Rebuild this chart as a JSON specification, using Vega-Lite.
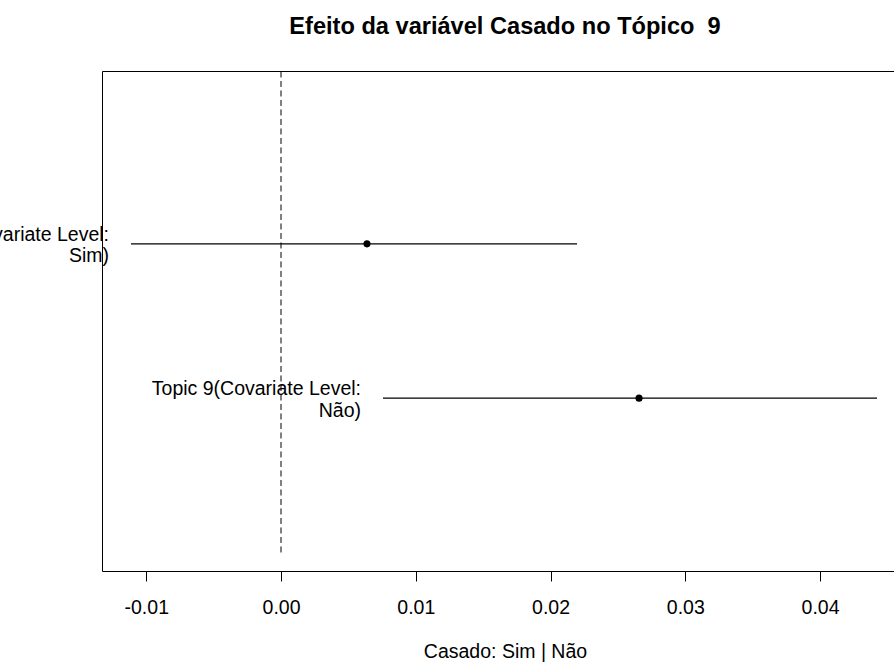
{
  "$schema": "https://vega.github.io/schema/vega-lite/v6.json",
  "width": 806,
  "height": 500,
  "autosize": {"type": "none"},
  "padding": {"left": 102, "top": 71, "right": 0, "bottom": 91},
  "background": "white",
  "config": {
    "font": "Liberation Sans",
    "view": {"stroke": "black", "strokeWidth": 1}
  },
  "title": {
    "text": "Efeito da variável Casado no Tópico \u00a09",
    "fontSize": 23.6,
    "fontWeight": "bold",
    "color": "black",
    "font": "Liberation Sans",
    "anchor": "middle",
    "frame": "group",
    "baseline": "alphabetic",
    "offset": 13
  },
  "datasets": {
    "effects": [
      {"level": "Sim", "pos": 2, "est": 0.00638, "lo": -0.01113, "hi": 0.02197, "label": "Topic 9(Covariate Level:\nSim)"},
      {"level": "Não", "pos": 1, "est": 0.02657, "lo": 0.00757, "hi": 0.04423, "label": "Topic 9(Covariate Level:\nNão)"}
    ],
    "zero": [
      {"x": 0, "y1": 0, "y2": 3.12}
    ]
  },
  "layer": [
    {
      "data": {"name": "zero"},
      "mark": {"type": "rule", "color": "black", "strokeWidth": 1, "strokeDash": [6, 3.5]},
      "encoding": {
        "x": {"field": "x", "type": "quantitative"},
        "y": {"field": "y1", "type": "quantitative"},
        "y2": {"field": "y2"}
      }
    },
    {
      "data": {"name": "effects"},
      "mark": {"type": "rule", "color": "black", "strokeWidth": 1.3},
      "encoding": {
        "x": {"field": "lo", "type": "quantitative"},
        "x2": {"field": "hi"},
        "y": {"field": "pos", "type": "quantitative"}
      }
    },
    {
      "data": {"name": "effects"},
      "mark": {"type": "point", "filled": true, "color": "black", "opacity": 1, "size": 50},
      "encoding": {
        "x": {"field": "est", "type": "quantitative"},
        "y": {"field": "pos", "type": "quantitative"}
      }
    },
    {
      "data": {"name": "effects"},
      "mark": {"type": "text", "align": "right", "baseline": "middle", "dx": -22, "dy": -9, "fontSize": 19.5, "lineHeight": 21.5, "lineBreak": "\n", "color": "black"},
      "encoding": {
        "x": {"field": "lo", "type": "quantitative"},
        "y": {"field": "pos", "type": "quantitative"},
        "text": {"field": "label"}
      }
    }
  ],
  "resolve": {"scale": {"x": "shared", "y": "shared"}},
  "encoding": {
    "x": {
      "type": "quantitative",
      "scale": {"domain": [-0.013284, 0.04653], "nice": false, "zero": false},
      "axis": {
        "title": "Casado: Sim | Não",
        "values": [-0.01, 0, 0.01, 0.02, 0.03, 0.04],
        "labelExpr": "datum.value < 0 ? '-' + format(-datum.value, '.2f') : format(datum.value, '.2f')",
        "domain": false,
        "grid": false,
        "ticks": true,
        "tickColor": "black",
        "tickSize": 10,
        "tickWidth": 1,
        "labelFontSize": 19.5,
        "labelColor": "black",
        "labelPadding": 17,
        "labelFont": "Liberation Sans",
        "titleFontSize": 19.5,
        "titleFontWeight": "normal",
        "titleColor": "black",
        "titleFont": "Liberation Sans",
        "titleBaseline": "top",
        "titleY": 71
      }
    },
    "y": {
      "type": "quantitative",
      "scale": {"domain": [-0.12, 3.12], "nice": false, "zero": false},
      "axis": null
    }
  }
}
